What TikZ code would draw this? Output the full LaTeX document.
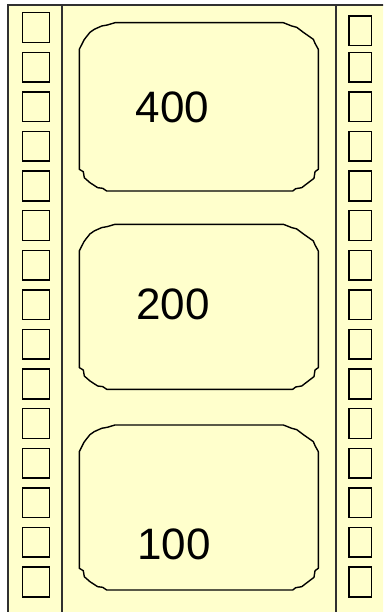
\documentclass[tikz,border=0pt]{standalone}
\usepackage{fontspec}
\setmainfont{Liberation Sans}
\definecolor{filmbg}{HTML}{FFFFCC}
\definecolor{edgegray}{HTML}{303030}
\tikzset{
  hole/.style={draw=black,line width=1.5pt},
  frameline/.style={draw=black,line width=1.4pt,line join=round},
  stripline/.style={draw=edgegray,line width=1.4pt},
  numlabel/.style={font=\fontsize{44}{44}\selectfont,text=black,inner sep=0pt}
}
% #1 top, #2 bottom
\newcommand\filmframe[2]{%
  \draw[frameline]
    (79.3,{#1+26.6}) -- (84.0,{#1+17.3}) -- (86.0,{#1+14.6}) -- (90.0,{#1+9.6})
    -- (94.3,{#1+6.6}) -- (101.7,{#1+3.3}) -- (107.3,{#1+2.3}) -- (115.0,#1)
    -- (283.3,#1) -- (286.7,{#1+1.3}) -- (291.7,{#1+3.3}) -- (296.7,{#1+4.6})
    -- (303.3,{#1+9.6}) -- (313.3,{#1+16.6}) -- (315.0,{#1+20.6}) -- (318.3,{#1+26.6})
    -- (318.3,{#2-21.7}) -- (315.0,{#2-19.3}) -- (314.0,{#2-12.7}) -- (301.7,{#2-3.3})
    -- (295.7,{#2-2.3}) -- (292.7,#2)
    -- (106.7,#2) -- (102.7,{#2-2.7}) -- (97.7,{#2-3.3}) -- (90.0,{#2-8.3})
    -- (84.3,{#2-13.3}) -- (83.3,{#2-19.3}) -- (79.3,{#2-21.7}) -- cycle;}
\begin{document}
\begin{tikzpicture}[x=1pt,y=-1pt]
\useasboundingbox (0,0) rectangle (383,612);
\fill[white] (0,0) rectangle (383,612);
\begin{scope}
\clip (0,0) rectangle (383,612);
\filldraw[fill=filmbg,draw=edgegray,line width=2pt] (8.3,5) rectangle (395,625);
\end{scope}
\draw[stripline] (62,5) -- (62,612);
\draw[stripline] (336,5) -- (336,612);
% sprocket holes
\foreach \k in {0,...,14}{
  \draw[hole] (22.7,{12.7+39.6*\k}) rectangle (49.3,{42.4+39.6*\k});
}
\draw[hole] (349,16) rectangle (371.7,45.7);
\foreach \k in {1,...,14}{
  \draw[hole] (349,{12.7+39.6*\k}) rectangle (371.7,{42.4+39.6*\k});
}
% frames
\filmframe{22.7}{191}
\filmframe{224.3}{389.3}
\filmframe{425}{590}
\node[numlabel] (n400) at (172.5,107.5) {400};
\node[numlabel] (n200) at (173,304.5) {200};
\node[numlabel] (n100) at (174,544) {100};
\end{tikzpicture}
\end{document}
